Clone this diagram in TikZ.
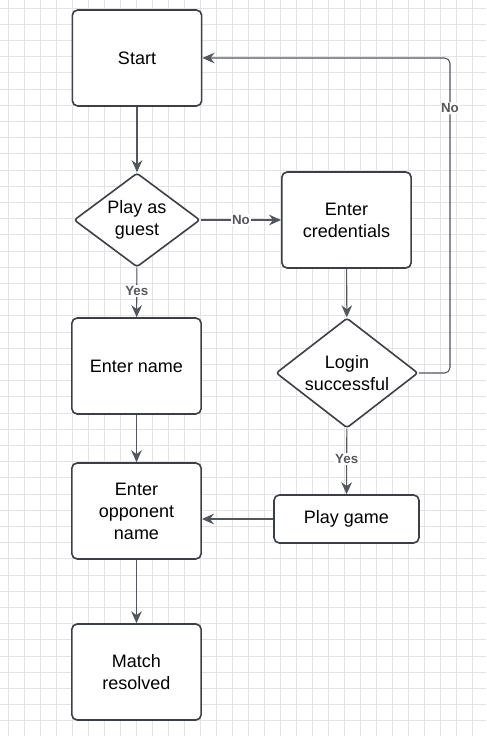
\documentclass[tikz,border=0pt]{standalone}
\usepackage{fontspec}
\setmainfont{Liberation Sans}
\usepackage{tikz}
\usetikzlibrary{shapes.geometric, arrows.meta, positioning}
\definecolor{FlowInk}{HTML}{3B3F48}
\definecolor{FlowLine}{HTML}{52565E}
\definecolor{FlowLabel}{HTML}{55575C}
\definecolor{FlowGrid}{HTML}{E3E3E5}
\tikzset{
    % Box styles with rounded corners
    process/.style={
        rectangle,
        rounded corners=4pt,
        draw=FlowInk,
        fill=white,
        line width=1.2pt,
        minimum width=97pt,
        minimum height=72pt,
        align=center,
        font=\fontsize{13.5}{16.5}\selectfont
    },
    decision/.style={
        diamond,
        rounded corners=2pt,
        draw=FlowInk,
        fill=white,
        line width=1.2pt,
        inner sep=0pt,
        shape aspect=1.3,
        align=center,
        font=\fontsize{13.5}{16.5}\selectfont
    },
    arrow style/.style={
        -{Stealth[length=9pt, width=8pt]},
        line width=0.8pt,
        FlowLine
    },
    edge label/.style={
        fill=white,
        inner sep=1pt,
        text=FlowLabel,
        font=\fontsize{10}{12}\selectfont\bfseries
    }
}

\begin{document}
\begin{tikzpicture}[x=0.75pt, y=-0.75pt]
    \useasboundingbox (0,0) rectangle (486,736);
    \fill[white] (0,0) rectangle (486,736);
    \foreach \gx in {8,24,...,488} \draw[FlowGrid, line width=0.6pt] (\gx,0) -- (\gx,736);
    \foreach \gy in {0,...,45} \draw[FlowGrid, line width=0.6pt] (0,8+16.2*\gy) -- (486,8+16.2*\gy);

    \node[process] (start) at (137, 58) {Start};
    \node[decision, minimum width=94.5pt, minimum height=70.5pt] (guest) at (137, 220) {Play as\\guest};
    \node[process] (credentials) at (346.5, 220) {Enter\\credentials};
    \node[process] (name) at (136.5, 366) {Enter name};
    \node[decision, minimum width=106.5pt, minimum height=82.5pt] (login) at (347, 373) {Login\\successful};
    \node[process] (opponent) at (136.5, 511) {Enter\\opponent\\name};
    \node[process, minimum width=108.75pt, minimum height=36pt] (play) at (346.5, 519) {Play game};
    \node[process] (match) at (136.5, 672) {Match\\resolved};

    \draw[arrow style] (start) -- (guest);
    \draw[arrow style] (guest) -- node[edge label] {No} (credentials);
    \draw[arrow style] (guest) -- node[edge label, pos=0.48] {Yes} (name);
    \draw[arrow style] (credentials) -- (login);
    \draw[arrow style] (login) -- node[edge label, pos=0.46] {Yes} (play);
    \draw[arrow style, rounded corners=4pt] (login.east) -| node[edge label, pos=0.92] {No} (450, 58) -- (start.east);
    \draw[arrow style] (play.west) -- (play.west -| opponent.east);
    \draw[arrow style] (name) -- (opponent);
    \draw[arrow style] (opponent) -- (match);
\end{tikzpicture}
\end{document}
